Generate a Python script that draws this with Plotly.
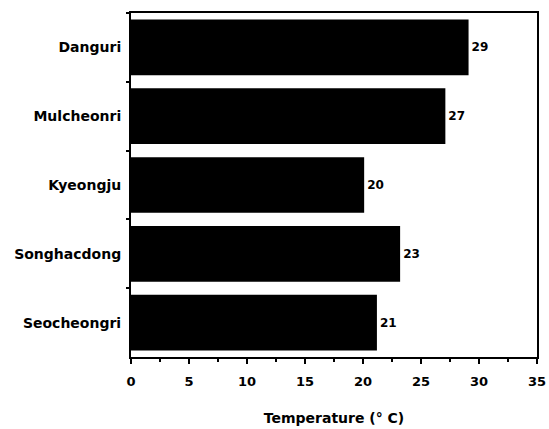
import plotly.graph_objects as go

sites = ["Danguri", "Mulcheonri", "Kyeongju", "Songhacdong", "Seocheongri"]
temperature = [29.1, 27.1, 20.1, 23.2, 21.2]
value_labels = ["29", "27", "20", "23", "21"]
x_ticks = [0, 5, 10, 15, 20, 25, 30, 35]

font_family = "DejaVu Sans, Arial, sans-serif"

fig = go.Figure(go.Bar(
    y=sites,
    x=temperature,
    orientation="h",
    marker=dict(color="black", line=dict(width=0)),
    text=value_labels,
    textposition="outside",
    textfont=dict(family=font_family, size=12, color="black", weight="bold"),
    cliponaxis=False,
    width=0.81,
))

fig.update_layout(
    width=549, height=429,
    margin=dict(l=131, r=12, t=13, b=72, autoexpand=False),
    paper_bgcolor="white", plot_bgcolor="white",
    showlegend=False,
    font=dict(family=font_family, color="black", weight="bold"),
    xaxis=dict(
        range=[0, 35],
        tickvals=x_ticks,
        ticks="outside", ticklen=5, tickwidth=2, tickcolor="black",
        minor=dict(dtick=2.5, ticks="outside", ticklen=3, tickwidth=2, tickcolor="black", showgrid=False),
        showline=True, linecolor="black", linewidth=2, mirror=True,
        showgrid=False, zeroline=False,
        automargin=False,
        tickfont=dict(size=13, family=font_family, weight="bold"),
        ticklabelstandoff=6,
        title=dict(text="Temperature (° C)", font=dict(size=14, family=font_family, weight="bold"), standoff=26),
    ),
    yaxis=dict(
        categoryorder="array", categoryarray=sites,
        autorange="reversed",
        ticks="outside", ticklen=3, tickwidth=2, tickcolor="black",
        tickson="boundaries",
        showline=True, linecolor="black", linewidth=2, mirror=True,
        showgrid=False, zeroline=False,
        automargin=False,
        tickfont=dict(size=14, family=font_family, weight="bold"),
        ticklabelstandoff=5,
    ),
)

fig.write_html("out.html", config={"displayModeBar": False},
               post_script="document.body.style.margin='0';")
